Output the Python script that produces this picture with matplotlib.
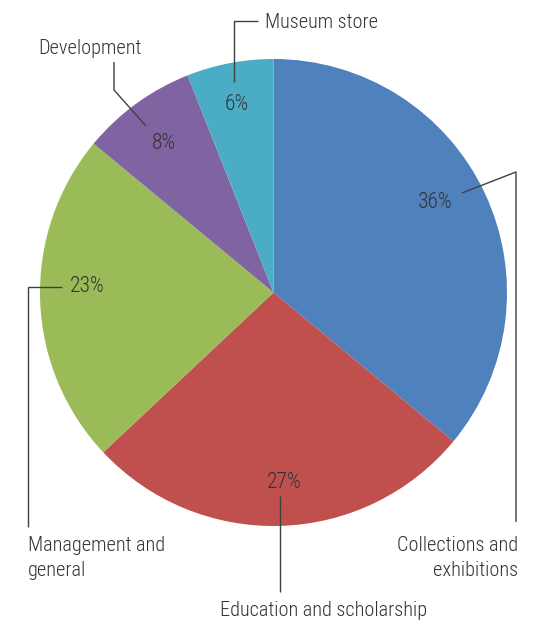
import matplotlib.pyplot as plt

categories = ['Collections and\nexhibitions', 'Education and scholarship',
              'Management and\ngeneral', 'Development', 'Museum store']
shares = [36, 27, 23, 8, 6]
colors = ['#4F81BD', '#C0504D', '#9BBB59', '#8064A2', '#4BACC6']

plt.rcParams['font.family'] = ['Roboto Condensed', 'DejaVu Sans']
plt.rcParams['font.weight'] = 300

W, H = 549, 623
CX, CY, R = 273.5, 292.5, 233.5


def px(x, y):
    # pixel position -> data coords (pie centre at origin, radius 1)
    return (x - CX) / R, (CY - y) / R


fs = 14.6
tc = '#333333'
lc = '#404040'

fig = plt.figure(figsize=(W / 100, H / 100), dpi=100)
ax = fig.add_axes([0, 0, 1, 1])
wedges, texts, pcts = ax.pie(shares, colors=colors, startangle=90, counterclock=False,
                             autopct='%d%%', pctdistance=0.8,
                             textprops=dict(fontsize=15.5, color=tc, fontweight=300),
                             wedgeprops=dict(linewidth=0))
# nudge percentage labels to where the original has them
pct_pos = [(435, 203), (284, 482), (87, 287), (164, 143), (237, 104)]
for t, p in zip(pcts, pct_pos):
    t.set_position(px(*p))

ax.set_xlim(px(0, 0)[0], px(W, 0)[0])
ax.set_ylim(px(0, H)[1], px(0, 0)[1])
ax.set_aspect('equal')
ax.axis('off')


def leader(pts):
    xs, ys = zip(*[px(*p) for p in pts])
    ax.plot(xs, ys, color=lc, lw=1.0, solid_capstyle='butt')


# Museum store
leader([(234, 82), (234, 21), (258, 21)])
ax.text(*px(265, 22), categories[4], fontsize=fs, color=tc, ha='left', va='center')
# Development
leader([(146, 126), (114, 90), (114, 62)])
ax.text(*px(90, 49), categories[3], fontsize=fs, color=tc, ha='center', va='center')
# Collections and exhibitions
leader([(462, 193), (516, 172), (516, 522)])
ax.text(*px(518, 558), categories[0], fontsize=fs, color=tc, ha='right', va='center',
        multialignment='right', linespacing=1.45)
# Management and general
leader([(62, 287), (28, 287), (28, 527)])
ax.text(*px(28, 558), categories[2], fontsize=fs, color=tc, ha='left', va='center',
        linespacing=1.45)
# Education and scholarship
leader([(280, 496), (280, 592)])
ax.text(*px(323.5, 610), categories[1], fontsize=fs, color=tc, ha='center', va='center')

fig.savefig('out.png', dpi=100)
